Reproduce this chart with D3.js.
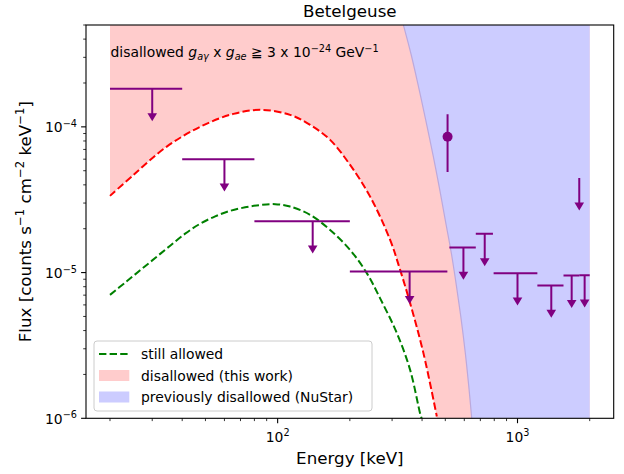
<!DOCTYPE html>
<html>
<head>
<meta charset="utf-8">
<script src="https://cdn.jsdelivr.net/npm/d3@7"></script>
<style>
  body { margin: 0; background: #fff; }
  svg text { font-family: "DejaVu Sans", sans-serif; fill: #000; }
</style>
</head>
<body>
<svg id="chart" width="624" height="474"></svg>
<script>
// ---- model spectra (energy in keV, flux in counts s^-1 cm^-2 keV^-1) ----
const disallowedEnergy = [20, 25.05, 34.5, 47.5, 65.4, 85.9, 112.7, 136.6, 165.5, 200.5, 243, 294.4, 324.1, 356.7, 405.3, 460.9];
const disallowedFlux   = [3.36e-5, 4.68e-5, 7.32e-5, 1.0e-4, 1.228e-4, 1.308e-4, 1.209e-4, 1.032e-4, 8.14e-5, 5.48e-5, 3.32e-5, 1.676e-5, 1.043e-5, 6.17e-6, 2.80e-6, 1.03e-6];

const allowedEnergy = [20, 23.14, 26.72, 30.86, 35.64, 41.15, 47.52, 54.9, 63.4, 73.2, 84.5, 97.6, 112.7, 136.6, 165.5, 200.5, 235.4, 267.5, 314.1, 356.7, 392.6, 398.4];
const allowedFlux   = [7.03e-6, 8.54e-6, 1.037e-5, 1.259e-5, 1.530e-5, 1.849e-5, 2.163e-5, 2.43e-5, 2.652e-5, 2.803e-5, 2.906e-5, 2.948e-5, 2.838e-5, 2.49e-5, 1.96e-5, 1.43e-5, 9.91e-6, 6.65e-6, 3.84e-6, 2.15e-6, 1.08e-6, 1.0e-6];

// NuStar exclusion boundary
const nustarEnergy = [334.5, 360.8, 388.2, 415.9, 444.5, 473.1, 501.4, 529.8, 556.9, 582.6, 606.0, 626.6, 644.3];
const nustarFlux   = [4.99e-4, 3.10e-4, 1.83e-4, 1.08e-4, 6.40e-5, 3.77e-5, 2.23e-5, 1.36e-5, 8.02e-6, 4.74e-6, 2.80e-6, 1.65e-6, 1.0e-6];

// ---- upper limits ----
const limitLow    = [20, 40, 80, 200, 520, 670, 795, 1210, 1555, 1809, 1809];
const limitHigh   = [40, 80, 200, 510, 670, 790, 1210, 1555, 1809, 2000, 1809];
const limitEnergy = [30, 60, 140, 355, 595, 730, 1000, 1383, 1682, 1905, 1809];
const limitFlux   = [1.824e-4, 6.0e-5, 2.25e-5, 1.016e-5, 1.486e-5, 1.845e-5, 9.9e-6, 8.15e-6, 9.54e-6, 9.6e-6, 4.45e-5];
const limitArrowFrac = 0.4;

// ---- detection ----
const detEnergy = [511];
const detFlux   = [8.55e-5];
const detErr    = [3.65e-5];

// ---- axes ----
const xRange = [20, 2000];
const yRange = [1e-6, 5e-4];
const xMajor = [100, 1000];
const xMajorExp = ["2", "3"];
const yMajor = [1e-6, 1e-5, 1e-4];
const yMajorExp = ["\u22126", "\u22125", "\u22124"];

const legendLabels = ["still allowed", "disallowed (this work)", "previously disallowed (NuStar)"];

const PURPLE = "#800080", PINK = "#ffcccc", LAVENDER = "#ccccff";

const svg = d3.select("#chart");
const L = 86, R = 613.7, T = 25, B = 418.3;
const pad = Math.pow(10, 0.1);
const x = d3.scaleLog().domain([xRange[0] / pad, xRange[1] * pad]).range([L, R]);
const y = d3.scaleLog().domain(yRange).range([B, T]);

svg.append("defs").append("clipPath").attr("id", "plotArea")
  .append("rect").attr("x", L).attr("y", T).attr("width", R - L).attr("height", B - T);

const plot = svg.append("g").attr("clip-path", "url(#plotArea)");
const toPts = (E, F) => E.map((e, i) => [x(e), y(F[i])]);
const smooth = d3.line().curve(d3.curveCatmullRom.alpha(0.5));

const redPts = toPts(disallowedEnergy, disallowedFlux);
const greenPts = toPts(allowedEnergy, allowedFlux);
const nuPts = toPts(nustarEnergy, nustarFlux);
const redPath = smooth(redPts);
const nuPath = smooth(nuPts);
const xEnd = x(xRange[1]), xStart = x(xRange[0]);

// disallowed (this work): everything above the red model
plot.append("path")
  .attr("d", `M${xStart},${T - 5}L` + redPath.slice(1) +
    `L${redPts[redPts.length - 1][0]},${B + 5}L${xEnd},${B + 5}L${xEnd},${T - 5}Z`)
  .attr("fill", PINK);

// previously disallowed: above the NuStar boundary
plot.append("path")
  .attr("d", `M${nuPts[0][0]},${T - 5}L` + nuPath.slice(1) +
    `L${nuPts[nuPts.length - 1][0]},${B + 5}L${xEnd},${B + 5}L${xEnd},${T - 5}Z`)
  .attr("fill", LAVENDER);
plot.append("path").attr("d", nuPath)
  .attr("fill", "none").attr("stroke", "#bca9dc").attr("stroke-width", 1.2);

// model curves
plot.append("path").attr("d", redPath).attr("fill", "none")
  .attr("stroke", "#ff0000").attr("stroke-width", 2).attr("stroke-dasharray", "7.4,3.2");
plot.append("path").attr("d", smooth(greenPts)).attr("fill", "none")
  .attr("stroke", "#008000").attr("stroke-width", 2).attr("stroke-dasharray", "7.4,3.2");

// upper limits
const lim = plot.append("g");
limitFlux.forEach((f, i) => {
  const yv = y(f), xc = x(limitEnergy[i]);
  const yTip = y(f * (1 - limitArrowFrac));
  if (limitHigh[i] > limitLow[i]) {
    lim.append("line").attr("x1", x(limitLow[i])).attr("x2", x(limitHigh[i]))
      .attr("y1", yv).attr("y2", yv).attr("stroke", PURPLE).attr("stroke-width", 2);
  }
  lim.append("line").attr("x1", xc).attr("x2", xc).attr("y1", yv).attr("y2", yTip - 4)
    .attr("stroke", PURPLE).attr("stroke-width", 2);
  lim.append("path")
    .attr("d", `M${xc - 4.8},${yTip - 8}L${xc + 4.8},${yTip - 8}L${xc},${yTip}Z`)
    .attr("fill", PURPLE);
});

// detection with error bar
detFlux.forEach((f, i) => {
  const xc = x(detEnergy[i]);
  plot.append("line").attr("x1", xc).attr("x2", xc)
    .attr("y1", y(f + detErr[i])).attr("y2", y(f - detErr[i]))
    .attr("stroke", PURPLE).attr("stroke-width", 2);
  plot.append("circle").attr("cx", xc).attr("cy", y(f)).attr("r", 5).attr("fill", PURPLE);
});

// ---- ticks ----
const axes = svg.append("g");
const xMinor = [];
[10, 100, 1000].forEach(d => { for (let k = 2; k <= 9; k++) { const v = k * d; if (v > x.domain()[0] && v < x.domain()[1]) xMinor.push(v); } });
const yMinor = [];
[1e-6, 1e-5, 1e-4].forEach(d => { for (let k = 2; k <= 9; k++) { const v = k * d; if (v <= yRange[1] * 1.0001) yMinor.push(v); } });

axes.selectAll(".xmaj").data(xMajor).enter().append("line")
  .attr("x1", d => x(d)).attr("x2", d => x(d)).attr("y1", B).attr("y2", B + 4.9)
  .attr("stroke", "#000").attr("stroke-width", 1.1);
axes.selectAll(".xmin").data(xMinor).enter().append("line")
  .attr("x1", d => x(d)).attr("x2", d => x(d)).attr("y1", B).attr("y2", B + 2.8)
  .attr("stroke", "#000").attr("stroke-width", 0.8);
axes.selectAll(".ymaj").data(yMajor).enter().append("line")
  .attr("x1", L - 4.9).attr("x2", L).attr("y1", d => y(d)).attr("y2", d => y(d))
  .attr("stroke", "#000").attr("stroke-width", 1.1);
axes.selectAll(".ymin").data(yMinor).enter().append("line")
  .attr("x1", L - 2.8).attr("x2", L).attr("y1", d => y(d)).attr("y2", d => y(d))
  .attr("stroke", "#000").attr("stroke-width", 0.8);

// tick labels
xMajor.forEach((v, i) => {
  const t = axes.append("text").attr("x", x(v)).attr("y", 441.5)
    .attr("text-anchor", "middle").attr("font-size", 13.9);
  t.append("tspan").text("10");
  t.append("tspan").attr("font-size", 9.7).attr("dy", -5.5).text(xMajorExp[i]);
});
yMajor.forEach((v, i) => {
  const t = axes.append("text").attr("x", 77).attr("y", y(v) + 5.5)
    .attr("text-anchor", "end").attr("font-size", 13.9);
  t.append("tspan").text("10");
  t.append("tspan").attr("font-size", 9.7).attr("dy", -5.5).text(yMajorExp[i]);
});

// frame
svg.append("rect").attr("x", L).attr("y", T).attr("width", R - L).attr("height", B - T)
  .attr("fill", "none").attr("stroke", "#000").attr("stroke-width", 1.1);

// ---- titles ----
svg.append("text").attr("x", (L + R) / 2).attr("y", 17).attr("text-anchor", "middle")
  .attr("font-size", 16.7).text("Betelgeuse");
svg.append("text").attr("x", (L + R) / 2).attr("y", 464).attr("text-anchor", "middle")
  .attr("font-size", 16.7).text("Energy [keV]");

const yl = svg.append("text").attr("transform", `translate(31,${(T + B) / 2}) rotate(-90)`)
  .attr("text-anchor", "middle").attr("font-size", 16.7);
yl.append("tspan").text("Flux [counts s");
yl.append("tspan").attr("font-size", 11.7).attr("dy", -7).text("\u22121");
yl.append("tspan").attr("dy", 7).text(" cm");
yl.append("tspan").attr("font-size", 11.7).attr("dy", -7).text("\u22122");
yl.append("tspan").attr("dy", 7).text(" keV");
yl.append("tspan").attr("font-size", 11.7).attr("dy", -7).text("\u22121");
yl.append("tspan").attr("dy", 7).text("]");

// annotation
const ann = svg.append("text").attr("x", 110.5).attr("y", 57.3).attr("font-size", 13.9);
ann.append("tspan").text("disallowed ");
ann.append("tspan").attr("font-style", "italic").text("g");
ann.append("tspan").attr("font-style", "italic").attr("font-size", 9.7).attr("dy", 2.5).text("a\u03b3");
ann.append("tspan").attr("dy", -2.5).text(" x ");
ann.append("tspan").attr("font-style", "italic").text("g");
ann.append("tspan").attr("font-style", "italic").attr("font-size", 9.7).attr("dy", 2.5).text("ae");
ann.append("tspan").attr("dy", -2.5).text(" \u2267 3 x 10");
ann.append("tspan").attr("font-size", 9.7).attr("dy", -5.5).text("\u221224");
ann.append("tspan").attr("dy", 5.5).text(" GeV");
ann.append("tspan").attr("font-size", 9.7).attr("dy", -5.5).text("\u22121");

// ---- legend ----
const lg = svg.append("g");
lg.append("rect").attr("x", 94).attr("y", 341).attr("width", 278).attr("height", 70)
  .attr("rx", 3).attr("fill", "#fff").attr("fill-opacity", 0.8)
  .attr("stroke", "#cccccc").attr("stroke-width", 1);
const rowY = [354, 375.5, 397];
lg.append("line").attr("x1", 99).attr("x2", 129.3).attr("y1", rowY[0]).attr("y2", rowY[0])
  .attr("stroke", "#008000").attr("stroke-width", 2).attr("stroke-dasharray", "7.4,3.2");
lg.append("rect").attr("x", 99).attr("y", rowY[1] - 5.5).attr("width", 30.3).attr("height", 11).attr("fill", PINK);
lg.append("rect").attr("x", 99).attr("y", rowY[2] - 5.5).attr("width", 30.3).attr("height", 11).attr("fill", LAVENDER);
legendLabels.forEach((s, i) => {
  lg.append("text").attr("x", 141).attr("y", rowY[i] + 5).attr("font-size", 13.9).text(s);
});
</script>
</body>
</html>
